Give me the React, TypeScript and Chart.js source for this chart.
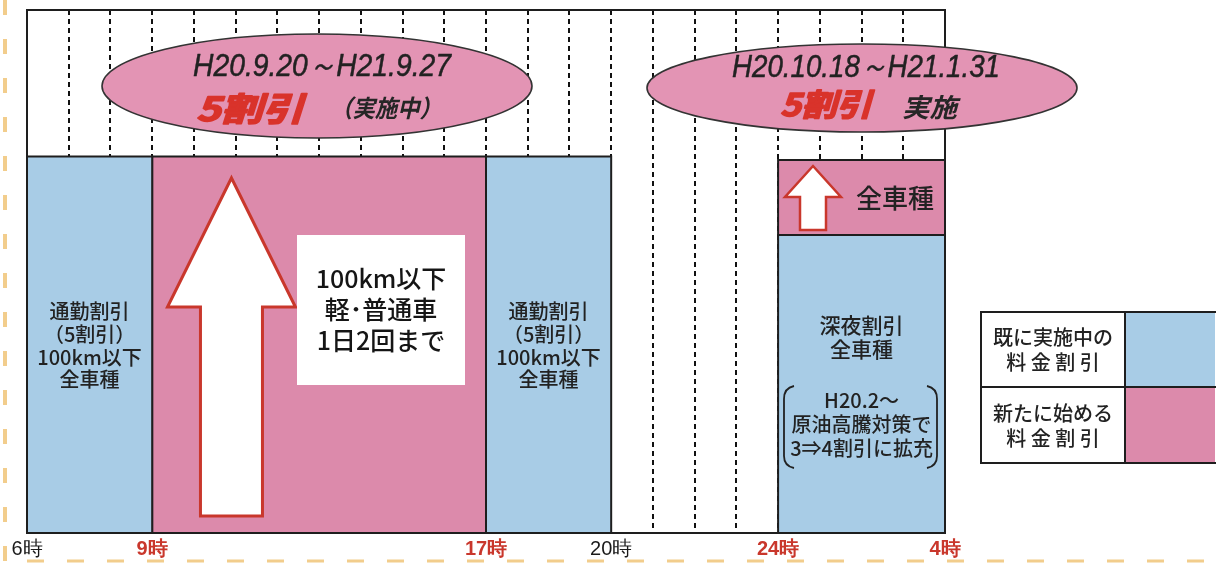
import React, { useEffect, useRef } from 'react';
import { Chart, registerables } from 'chart.js';

Chart.register(...registerables);

// ---- data ----
const hourMin = 6;
const hourMax = 28;
const tickHours = [6, 9, 17, 20, 24, 28];
const tickLabels = ['6時', '9時', '17時', '20時', '24時', '4時'];
const tickHighlight = [false, true, true, false, true, true];

const blockNames = ['通勤割引（朝）', '新割引（昼間）', '通勤割引（夕）', '深夜割引', '新割引（深夜）'];
const blockStart = [6, 9, 17, 24, 24];
const blockEnd = [9, 17, 20, 28, 28];
const blockLow = [0, 0, 0, 0, 57];
const blockHigh = [72, 72, 72, 57, 71.3];
const blockIsNew = [false, true, false, false, true];

const commuteText = ['通勤割引', '（5割引）', '100km以下', '全車種'];
const daytimeText = ['100km以下', '軽･普通車', '1日2回まで'];
const nightText = ['深夜割引', '全車種'];
const nightNote = ['H20.2～', '原油高騰対策で', '3⇒4割引に拡充'];
const nightNewText = '全車種';

const periodDates = ['H20.9.20～H21.9.27', 'H20.10.18～H21.1.31'];
const periodRate = ['5割引', '5割引'];
const periodStatus = ['（実施中）', '実施'];

const legendRows = [
  ['既に実施中の', '料 金 割 引'],
  ['新たに始める', '料 金 割 引'],
];

// ---- styles ----
const RED = '#c9372c';
const RATE_RED = '#d9332b';
const BLUE = '#a8cce6';
const PINK = '#dc8aab';
const ELL = '#e394b4';
const INK = '#222222';
const LINE = '#1e1e1e';
const JP = "'Noto Sans CJK JP', 'Noto Sans', sans-serif";
const LAT = "'Liberation Sans', Arial, sans-serif";

function fitText(ctx: any, text: string, left: number, cy: number, width: number, font: string, color: string, heavy = 0) {
  ctx.save();
  ctx.font = font;
  ctx.fillStyle = color;
  ctx.textAlign = 'left';
  ctx.textBaseline = 'middle';
  const w = ctx.measureText(text).width;
  ctx.translate(left, cy);
  ctx.scale(width / w, 1);
  ctx.fillText(text, 0, 0);
  if (heavy > 0) {
    ctx.lineWidth = heavy;
    ctx.lineJoin = 'round';
    ctx.strokeStyle = color;
    ctx.strokeText(text, 0, 0);
  }
  ctx.restore();
}

function centerLines(ctx: any, lines: string[], cx: number, ys: number[], font: string, color: string) {
  ctx.save();
  ctx.font = font;
  ctx.fillStyle = color;
  ctx.textAlign = 'center';
  ctx.textBaseline = 'middle';
  lines.forEach((t, i) => ctx.fillText(t, cx, ys[i]));
  ctx.restore();
}

function drawArrow(ctx: any, cx: number, tipY: number, headY: number, headHalf: number, shaftHalf: number, bottomY: number, lw: number) {
  ctx.save();
  ctx.beginPath();
  ctx.moveTo(cx, tipY);
  ctx.lineTo(cx + headHalf, headY);
  ctx.lineTo(cx + shaftHalf, headY);
  ctx.lineTo(cx + shaftHalf, bottomY);
  ctx.lineTo(cx - shaftHalf, bottomY);
  ctx.lineTo(cx - shaftHalf, headY);
  ctx.lineTo(cx - headHalf, headY);
  ctx.closePath();
  ctx.fillStyle = '#ffffff';
  ctx.fill();
  ctx.lineWidth = lw;
  ctx.lineJoin = 'miter';
  ctx.strokeStyle = RED;
  ctx.stroke();
  ctx.restore();
}

function drawEllipse(ctx: any, cx: number, cy: number, rx: number, ry: number) {
  ctx.save();
  ctx.beginPath();
  ctx.ellipse(cx, cy, rx, ry, 0, 0, Math.PI * 2);
  ctx.fillStyle = ELL;
  ctx.fill();
  ctx.lineWidth = 1.6;
  ctx.strokeStyle = '#333';
  ctx.stroke();
  ctx.restore();
}

const overlay = {
  id: 'overlay',
  afterDatasetsDraw(chart: any) {
    const ctx = chart.ctx;
    const a = chart.chartArea;
    const xs = chart.scales.x;
    const X = (h: number) => xs.getPixelForValue(h);

    // frame
    ctx.save();
    ctx.strokeStyle = LINE;
    ctx.lineWidth = 2;
    ctx.strokeRect(a.left, a.top, a.right - a.left, a.bottom - a.top);
    ctx.restore();

    // big arrow in daytime block
    drawArrow(ctx, X(10.9), 178, 307, 64, 31, 516, 3);

    // white box with daytime text
    ctx.save();
    ctx.fillStyle = '#ffffff';
    ctx.fillRect(297, 235, 168, 150);
    ctx.restore();
    centerLines(ctx, daytimeText, 381, [278, 309, 340], `500 25px ${JP}`, '#151515');

    // commute blocks
    centerLines(ctx, commuteText, X(7.5), [311, 334, 357, 379], `500 20px ${JP}`, INK);
    centerLines(ctx, commuteText, X(18.5), [311, 334, 357, 379], `500 20px ${JP}`, INK);

    // night blue block
    centerLines(ctx, nightText, X(26), [325, 349], `500 21px ${JP}`, INK);
    centerLines(ctx, nightNote, X(26), [400, 424, 448], `500 20px ${JP}`, INK);
    // brackets
    ctx.save();
    ctx.strokeStyle = INK;
    ctx.lineWidth = 1.8;
    ctx.beginPath();
    ctx.moveTo(794, 386);
    ctx.quadraticCurveTo(784, 388, 784, 399);
    ctx.lineTo(784, 456);
    ctx.quadraticCurveTo(784, 466, 794, 468);
    ctx.moveTo(927, 386);
    ctx.quadraticCurveTo(937, 388, 937, 399);
    ctx.lineTo(937, 456);
    ctx.quadraticCurveTo(937, 466, 927, 468);
    ctx.stroke();
    ctx.restore();

    // night pink block
    drawArrow(ctx, 813, 166, 197, 28, 13, 230, 2.5);
    centerLines(ctx, [nightNewText], 895, [198], `500 26px ${JP}`, INK);

    // ellipses
    drawEllipse(ctx, 317, 86, 215, 52);
    fitText(ctx, periodDates[0], 193, 67, 258, `italic 32px ${LAT}`, '#222', 0.5);
    fitText(ctx, periodRate[0], 196, 108, 108, `italic bold 33px ${JP}`, RATE_RED, 1.6);
    fitText(ctx, periodStatus[0], 330, 108, 112, `italic bold 24px ${JP}`, '#262626');

    drawEllipse(ctx, 862, 88, 215, 44);
    fitText(ctx, periodDates[1], 732, 68, 268, `italic 32px ${LAT}`, '#222', 0.5);
    fitText(ctx, periodRate[1], 780, 104, 92, `italic bold 31px ${JP}`, RATE_RED, 1.6);
    fitText(ctx, periodStatus[1], 902, 107, 55, `italic bold 26px ${JP}`, '#262626');

    // legend table
    const lx = 981, ly = 312, rx = 1215, mid = 387, by = 463, split = 1125;
    ctx.save();
    ctx.fillStyle = '#ffffff';
    ctx.fillRect(lx, ly, split - lx, by - ly);
    ctx.fillStyle = BLUE;
    ctx.fillRect(split, ly, rx - split, mid - ly);
    ctx.fillStyle = PINK;
    ctx.fillRect(split, mid, rx - split, by - mid);
    ctx.strokeStyle = LINE;
    ctx.lineWidth = 2;
    ctx.beginPath();
    ctx.moveTo(rx + 2, ly);
    ctx.lineTo(lx, ly);
    ctx.lineTo(lx, by);
    ctx.lineTo(rx + 2, by);
    ctx.moveTo(lx, mid);
    ctx.lineTo(rx + 2, mid);
    ctx.moveTo(split, ly);
    ctx.lineTo(split, by);
    ctx.stroke();
    ctx.restore();
    centerLines(ctx, legendRows[0], 1053, [337, 362], `500 20px ${JP}`, INK);
    centerLines(ctx, legendRows[1], 1053, [413, 438], `500 20px ${JP}`, INK);

    // page border decoration (scan)
    ctx.save();
    ctx.strokeStyle = '#f2cd8c';
    ctx.lineWidth = 4;
    ctx.setLineDash([15, 24]);
    ctx.beginPath();
    ctx.moveTo(5, 0);
    ctx.lineTo(5, 563);
    ctx.stroke();
    ctx.lineWidth = 3;
    ctx.setLineDash([17, 23]);
    ctx.beginPath();
    ctx.moveTo(27, 561);
    ctx.lineTo(1216, 561);
    ctx.stroke();
    ctx.restore();
  },
};

export default function App() {
  const ref = useRef<HTMLCanvasElement>(null);

  useEffect(() => {
    const canvas = ref.current;
    if (!canvas) return;
    const datasets = blockStart.map((s, i) => ({
      label: blockNames[i],
      data: [
        { x: s, y: blockLow[i] },
        { x: s, y: blockHigh[i] },
        { x: blockEnd[i], y: blockHigh[i] },
        { x: blockEnd[i], y: blockLow[i] },
      ],
      borderColor: LINE,
      borderWidth: 2,
      backgroundColor: blockIsNew[i] ? PINK : BLUE,
      fill: { value: blockLow[i] },
      pointRadius: 0,
      pointHoverRadius: 0,
      tension: 0,
    }));

    const chart = new Chart(canvas, {
      type: 'line',
      data: { datasets },
      options: {
        responsive: false,
        animation: false,
        events: [],
        layout: { padding: { left: 27, right: 271, top: 10, bottom: 0 } },
        plugins: {
          legend: { display: false },
          tooltip: { enabled: false },
        },
        scales: {
          x: {
            type: 'linear',
            min: hourMin,
            max: hourMax,
            afterFit: (s: any) => {
              s.height = 30;
            },
            ticks: {
              stepSize: 1,
              autoSkip: false,
              maxRotation: 0,
              padding: 4,
              callback: (v: any) => {
                const i = tickHours.indexOf(Number(v));
                return i >= 0 ? tickLabels[i] : '';
              },
              color: (c: any) => {
                const i = tickHours.indexOf(c.tick ? c.tick.value : -1);
                return i >= 0 && tickHighlight[i] ? RED : '#1a1a1a';
              },
              font: (c: any) => {
                const i = tickHours.indexOf(c.tick ? c.tick.value : -1);
                return { family: LAT, size: 20, weight: i >= 0 && tickHighlight[i] ? 'bold' : 'normal' };
              },
            },
            grid: {
              drawTicks: false,
              lineWidth: 2,
              color: (c: any) => {
                const v = c.tick ? c.tick.value : -1;
                return v === hourMin || v === hourMax ? 'rgba(0,0,0,0)' : '#111111';
              },
            },
            border: { display: false, dash: [5, 4] },
          },
          y: { display: false, min: 0, max: 100 },
        },
      } as any,
      plugins: [overlay],
    });
    return () => chart.destroy();
  }, []);

  return (
    <div style={{ position: 'absolute', left: 0, top: 0, width: 1216, height: 563, background: '#ffffff' }}>
      <canvas ref={ref} width={1216} height={563} style={{ display: 'block' }} />
    </div>
  );
}
